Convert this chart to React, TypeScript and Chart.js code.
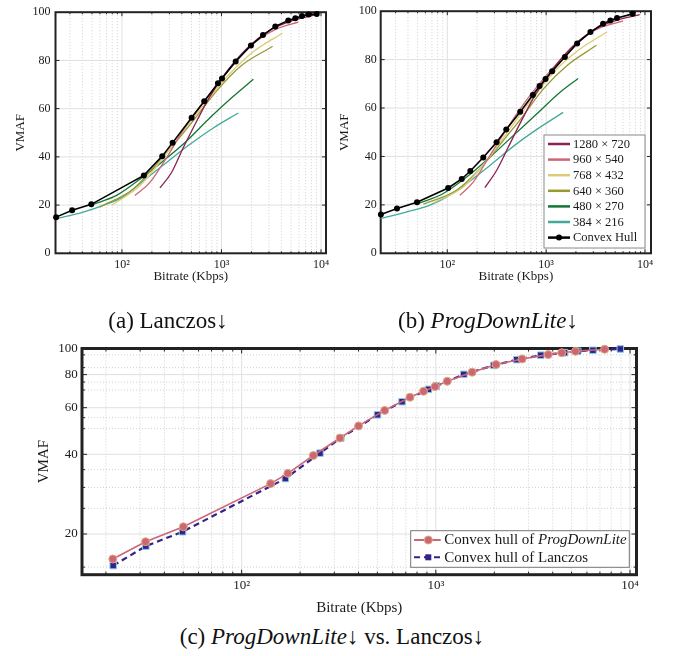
import React, { useEffect, useRef } from 'react';
import { Chart, registerables } from 'chart.js';

Chart.register(...registerables);

const SERIF = '"Liberation Serif", "DejaVu Serif", serif';
const INK = '#1a1a1a';

const resolutionLabels = ['1280 × 720', '960 × 540', '768 × 432', '640 × 360', '480 × 270', '384 × 216'];
const resolutionColors = ['#882255', '#CC6677', '#DDCC77', '#999933', '#117733', '#44AA99'];

const xTickValues = [100, 1000, 10000];
const xTickLabels = ['10²', '10³', '10⁴'];
const xMinorTicks = [20, 30, 40, 50, 60, 70, 80, 90, 200, 300, 400, 500, 600, 700, 800, 900, 2000, 3000, 4000, 5000, 6000, 7000, 8000, 9000];
const yTicksLinear = [0, 20, 40, 60, 80, 100];
const yTicksLog = [20, 40, 60, 80, 100];
const yMinorLog = [15, 25, 30, 35, 50, 55, 70, 75, 85, 95];

// (a) Lanczos
const lzHullRate = [21.8, 31.6, 49.2, 166, 254, 323, 501, 671, 922, 1012, 1390, 1977, 2612, 3475, 4690, 5520, 6440, 7510, 9060];
const lzHullVmaf = [15.0, 17.9, 20.3, 32.3, 40.3, 45.9, 56.2, 63.1, 70.5, 72.5, 79.6, 86.2, 90.5, 94.1, 96.6, 97.5, 98.4, 99.0, 99.3];
const lz1280Rate = [241, 315, 413, 563, 766, 1127, 1790, 3070, 5260, 8710];
const lz1280Vmaf = [27.1, 33.5, 43.8, 54.8, 65.1, 75.3, 84.9, 92.5, 96.6, 98.9];
const lz960Rate = [135, 191, 281, 447, 710, 1217, 2090, 3590, 5920];
const lz960Vmaf = [24.0, 29.4, 39.7, 53.4, 64.4, 76.7, 87.0, 93.1, 95.9];
const lz768Rate = [78.8, 152, 260, 447, 710, 1217, 2090, 4120];
const lz768Vmaf = [19.9, 28.1, 39.7, 52.6, 63.0, 74.6, 83.6, 91.4];
const lz640Rate = [60.1, 130, 223, 355, 563, 896, 1535, 3265];
const lz640Vmaf = [19.2, 26.7, 37.0, 46.6, 56.8, 67.4, 77.4, 85.9];
const lz480Rate = [49.5, 88.4, 164, 260, 447, 766, 1315, 2090];
const lz480Vmaf = [20.1, 24.0, 31.8, 38.3, 46.6, 56.2, 65.1, 72.2];
const lz384Rate = [21.7, 40.8, 64.9, 103, 164, 281, 482, 828, 1475];
const lz384Vmaf = [14.4, 17.1, 19.9, 23.4, 30.1, 37.7, 45.2, 52.0, 58.2];

// (b) ProgDownLite
const pdHullRate = [21.3, 31, 49.4, 102, 140, 171, 231, 315, 395, 547, 734, 858, 986, 1150, 1546, 2057, 2806, 3764, 4467, 5212, 7510];
const pdHullVmaf = [16.0, 18.5, 21.1, 27.0, 30.7, 34.0, 39.6, 45.9, 51.1, 58.5, 65.4, 69.1, 72.0, 75.2, 81.1, 86.7, 91.4, 94.8, 96.2, 97.2, 98.9];
const pd1280Rate = [240, 315, 413, 563, 769, 1135, 1806, 3228, 5556, 8830];
const pd1280Vmaf = [27.1, 34.2, 43.8, 54.8, 65.1, 75.3, 84.9, 92.9, 96.6, 98.6];
const pd960Rate = [134, 183, 270, 430, 684, 1178, 2026, 3486, 5995];
const pd960Vmaf = [24.0, 29.4, 40.4, 53.4, 65.1, 76.7, 87.0, 93.1, 95.9];
const pd768Rate = [72.2, 145, 250, 430, 740, 1273, 2187, 4130];
const pd768Vmaf = [20.8, 27.4, 38.3, 51.4, 64.4, 76.0, 84.3, 91.4];
const pd640Rate = [57.3, 124, 214, 368, 586, 933, 1607, 3228];
const pd640Vmaf = [20.3, 26.0, 34.9, 46.6, 56.8, 67.8, 77.4, 85.9];
const pd480Rate = [49.1, 91.1, 157, 270, 464, 800, 1374, 2105];
const pd480Vmaf = [20.3, 24.7, 31.5, 39.7, 48.6, 57.5, 66.4, 72.2];
const pd384Rate = [21.2, 45.4, 66.8, 98.6, 157, 270, 502, 863, 1486];
const pd384Vmaf = [14.4, 17.8, 19.9, 23.3, 28.8, 36.3, 45.2, 52.0, 58.2];

// (c) comparison of convex hulls
const cmpProgRate = [21.7, 32.0, 50.1, 141, 173, 234, 321, 400, 545, 736, 864, 991, 1145, 1538, 2042, 2782, 3790, 4450, 5240, 7400];
const cmpProgVmaf = [16.1, 18.7, 21.3, 31.0, 33.9, 39.6, 46.1, 51.2, 58.6, 65.7, 69.2, 72.1, 75.5, 81.7, 87.3, 91.7, 95.2, 96.8, 98.0, 99.7];
const cmpLzRate = [21.8, 32.1, 49.6, 168, 253, 324, 501, 670, 917, 1006, 1393, 1988, 2612, 3470, 4600, 5380, 6440, 8915];
const cmpLzVmaf = [15.2, 18.0, 20.4, 32.4, 40.4, 46.1, 56.4, 63.2, 70.4, 72.5, 80.2, 86.7, 91.1, 94.7, 96.8, 98.0, 98.9, 100];

const zip = (xs: number[], ys: number[]) => xs.map((x, i) => ({ x, y: ys[i] }));

function makeFramePlugin(o: { yMajor: number[]; yMinor: number[]; frameWidth: number; majorLen: number; minorLen: number }) {
  return {
    id: 'pgfFrame',
    beforeDatasetsDraw(chart: any) {
      const { ctx, chartArea: a } = chart;
      const xs = chart.scales.x;
      const ys = chart.scales.y;
      const inX = (v: number) => v > xs.min && v < xs.max;
      const inY = (v: number) => v > ys.min && v < ys.max;
      const seg = (x1: number, y1: number, x2: number, y2: number) => {
        ctx.beginPath();
        ctx.moveTo(x1, y1);
        ctx.lineTo(x2, y2);
        ctx.stroke();
      };
      ctx.save();
      ctx.strokeStyle = '#c4c4c4';
      ctx.lineWidth = 0.8;
      ctx.setLineDash([1, 2]);
      xMinorTicks.filter(inX).forEach((v) => {
        const x = xs.getPixelForValue(v);
        seg(x, a.top, x, a.bottom);
      });
      o.yMinor.filter(inY).forEach((v) => {
        const y = ys.getPixelForValue(v);
        seg(a.left, y, a.right, y);
      });
      ctx.setLineDash([]);
      ctx.strokeStyle = '#e0e0e0';
      ctx.lineWidth = 1;
      xTickValues.filter(inX).forEach((v) => {
        const x = xs.getPixelForValue(v);
        seg(x, a.top, x, a.bottom);
      });
      o.yMajor.filter(inY).forEach((v) => {
        const y = ys.getPixelForValue(v);
        seg(a.left, y, a.right, y);
      });
      ctx.strokeStyle = '#222';
      ctx.lineWidth = 1;
      xTickValues.filter(inX).forEach((v) => {
        const x = xs.getPixelForValue(v);
        seg(x, a.bottom, x, a.bottom - o.majorLen);
        seg(x, a.top, x, a.top + o.majorLen);
      });
      xMinorTicks.filter(inX).forEach((v) => {
        const x = xs.getPixelForValue(v);
        seg(x, a.bottom, x, a.bottom - o.minorLen);
        seg(x, a.top, x, a.top + o.minorLen);
      });
      o.yMajor.filter(inY).forEach((v) => {
        const y = ys.getPixelForValue(v);
        seg(a.left, y, a.left + o.majorLen, y);
        seg(a.right, y, a.right - o.majorLen, y);
      });
      o.yMinor.filter(inY).forEach((v) => {
        const y = ys.getPixelForValue(v);
        seg(a.left, y, a.left + o.minorLen, y);
        seg(a.right, y, a.right - o.minorLen, y);
      });
      ctx.strokeStyle = '#222';
      ctx.lineWidth = o.frameWidth;
      ctx.strokeRect(a.left, a.top, a.right - a.left, a.bottom - a.top);
      ctx.restore();
    },
  };
}

const resLegendPlugin = {
  id: 'resLegend',
  afterDraw(chart: any) {
    const { ctx, chartArea: a } = chart;
    const w = 101;
    const h = 113;
    const right = a.right - 6;
    const bottom = a.bottom - 5.3;
    const left = right - w;
    const top = bottom - h;
    ctx.save();
    ctx.fillStyle = '#fff';
    ctx.fillRect(left, top, w, h);
    ctx.strokeStyle = '#8a8a8a';
    ctx.lineWidth = 1;
    ctx.strokeRect(left, top, w, h);
    const labels = [...resolutionLabels, 'Convex Hull'];
    const colors = [...resolutionColors, '#000'];
    ctx.font = `12.5px ${SERIF}`;
    ctx.textBaseline = 'middle';
    labels.forEach((lab, i) => {
      const y = top + 9 + i * 15.6;
      ctx.strokeStyle = colors[i];
      ctx.lineWidth = 2.5;
      ctx.beginPath();
      ctx.moveTo(left + 4, y);
      ctx.lineTo(left + 26, y);
      ctx.stroke();
      if (i === labels.length - 1) {
        ctx.fillStyle = '#000';
        ctx.beginPath();
        ctx.arc(left + 15, y, 3, 0, Math.PI * 2);
        ctx.fill();
      }
      ctx.fillStyle = INK;
      ctx.fillText(lab, left + 29, y + 0.5);
    });
    ctx.restore();
  },
};

const cmpLegendPlugin = {
  id: 'cmpLegend',
  afterDraw(chart: any) {
    const { ctx, chartArea: a } = chart;
    const w = 218.6;
    const h = 36.6;
    const right = a.right - 7.2;
    const bottom = a.bottom - 7.4;
    const left = right - w;
    const top = bottom - h;
    ctx.save();
    ctx.fillStyle = '#fff';
    ctx.fillRect(left, top, w, h);
    ctx.strokeStyle = '#777';
    ctx.lineWidth = 1;
    ctx.strokeRect(left, top, w, h);
    ctx.textBaseline = 'middle';
    let y = top + 9.3;
    ctx.strokeStyle = '#CC6677';
    ctx.lineWidth = 2;
    ctx.beginPath();
    ctx.moveTo(left + 3.3, y);
    ctx.lineTo(left + 30, y);
    ctx.stroke();
    ctx.fillStyle = '#CC6677';
    ctx.strokeStyle = '#DDAA77';
    ctx.lineWidth = 1;
    ctx.beginPath();
    ctx.arc(left + 17.6, y, 4, 0, Math.PI * 2);
    ctx.fill();
    ctx.stroke();
    ctx.fillStyle = INK;
    ctx.font = `15px ${SERIF}`;
    const pre = 'Convex hull of ';
    ctx.fillText(pre, left + 33.6, y + 0.5);
    const pw = ctx.measureText(pre).width;
    ctx.font = `italic 15px ${SERIF}`;
    ctx.fillText('ProgDownLite', left + 33.6 + pw, y + 0.5);
    y = top + 26.6;
    ctx.strokeStyle = '#332288';
    ctx.lineWidth = 2;
    ctx.setLineDash([6, 4]);
    ctx.beginPath();
    ctx.moveTo(left + 3.3, y);
    ctx.lineTo(left + 30, y);
    ctx.stroke();
    ctx.setLineDash([]);
    ctx.fillStyle = '#332288';
    ctx.fillRect(left + 14.6, y - 3, 6, 6);
    ctx.fillStyle = INK;
    ctx.font = `15px ${SERIF}`;
    ctx.fillText('Convex hull of Lanczos', left + 33.6, y + 0.5);
    ctx.restore();
  },
};

function xAxis(min: number, max: number, height: number, tickSize: number, tickPad: number, titleSize: number, titlePad: number) {
  return {
    type: 'logarithmic',
    min,
    max,
    grid: { display: false, drawTicks: false },
    border: { display: false },
    afterBuildTicks: (s: any) => {
      s.ticks = xTickValues.map((v) => ({ value: v }));
    },
    afterFit: (s: any) => {
      s.height = height;
    },
    ticks: {
      autoSkip: false,
      maxRotation: 0,
      minRotation: 0,
      padding: tickPad,
      color: INK,
      font: { family: SERIF, size: tickSize },
      callback: (v: any) => {
        const i = xTickValues.indexOf(Number(v));
        return i >= 0 ? xTickLabels[i] : '';
      },
    },
    title: {
      display: true,
      text: 'Bitrate (Kbps)',
      color: INK,
      font: { family: SERIF, size: titleSize },
      padding: { top: 0, bottom: titlePad },
    },
  };
}

function yAxis(type: string, min: number, max: number, ticks: number[], width: number, tickSize: number, tickPad: number, titleSize: number, titlePad: number) {
  return {
    type,
    min,
    max,
    grid: { display: false, drawTicks: false },
    border: { display: false },
    afterBuildTicks: (s: any) => {
      s.ticks = ticks.map((v) => ({ value: v }));
    },
    afterFit: (s: any) => {
      s.width = width;
    },
    ticks: {
      autoSkip: false,
      padding: tickPad,
      color: INK,
      font: { family: SERIF, size: tickSize },
      callback: (v: any) => String(v),
    },
    title: {
      display: true,
      text: 'VMAF',
      color: INK,
      font: { family: SERIF, size: titleSize },
      padding: { top: titlePad, bottom: 0 },
    },
  };
}

function resolutionConfig(hullRate: number[], hullVmaf: number[], curves: number[][][], p: any) {
  const datasets: any[] = [
    {
      label: 'Convex Hull',
      data: zip(hullRate, hullVmaf),
      borderColor: '#000',
      backgroundColor: '#000',
      borderWidth: 1.6,
      pointRadius: 3,
      pointBorderWidth: 0,
      tension: 0,
      clip: false,
    },
    ...curves.map(([r, v], i) => ({
      label: resolutionLabels[i],
      data: zip(r, v),
      borderColor: resolutionColors[i],
      backgroundColor: resolutionColors[i],
      borderWidth: 1.3,
      pointRadius: 0,
      cubicInterpolationMode: 'monotone',
      clip: false,
    })),
  ];
  const plugins: any[] = [makeFramePlugin({ yMajor: yTicksLinear, yMinor: [], frameWidth: 2, majorLen: 4, minorLen: 2 })];
  if (p.legend) plugins.push(resLegendPlugin);
  return {
    type: 'line',
    data: { datasets },
    plugins,
    options: {
      animation: false,
      responsive: false,
      maintainAspectRatio: false,
      events: [],
      layout: { padding: { left: 0, right: p.padRight, top: 10, bottom: 0 } },
      plugins: { legend: { display: false }, tooltip: { enabled: false } },
      scales: {
        x: xAxis(p.xMin, p.xMax, 36.7, 12, 4, 13, 6),
        y: yAxis('linear', 0, 100, yTicksLinear, p.yWidth, 12, p.yTickPad, 13, p.vmafPad),
      },
    },
  };
}

function compareConfig() {
  const datasets: any[] = [
    {
      label: 'Convex hull of ProgDownLite',
      data: zip(cmpProgRate, cmpProgVmaf),
      borderColor: '#CC6677',
      backgroundColor: '#CC6677',
      pointBorderColor: '#DDAA77',
      borderWidth: 1.6,
      pointRadius: 4,
      pointBorderWidth: 1,
      tension: 0,
      clip: false,
    },
    {
      label: 'Convex hull of Lanczos',
      data: zip(cmpLzRate, cmpLzVmaf),
      borderColor: '#332288',
      backgroundColor: '#332288',
      pointBorderColor: '#88CCEE',
      borderWidth: 2.2,
      borderDash: [6, 4],
      pointStyle: 'rect',
      pointRadius: 4.6,
      pointBorderWidth: 1,
      tension: 0,
      clip: false,
    },
  ];
  return {
    type: 'line',
    data: { datasets },
    plugins: [makeFramePlugin({ yMajor: yTicksLog, yMinor: yMinorLog, frameWidth: 3, majorLen: 5, minorLen: 3 }), cmpLegendPlugin],
    options: {
      animation: false,
      responsive: false,
      maintainAspectRatio: false,
      events: [],
      layout: { padding: { left: 0, right: 41.5, top: 18.5, bottom: 0 } },
      plugins: { legend: { display: false }, tooltip: { enabled: false } },
      scales: {
        x: xAxis(15.06, 10800, 45.3, 13, 3, 15, 2.7),
        y: yAxis('logarithmic', 14.04, 100.4, yTicksLog, 82, 13, 4.3, 15, 35),
      },
    },
  };
}

function ChartCanvas({ left, top, width, height, build }: { left: number; top: number; width: number; height: number; build: () => any }) {
  const ref = useRef<HTMLCanvasElement>(null);
  useEffect(() => {
    const chart = new Chart(ref.current as HTMLCanvasElement, build());
    return () => chart.destroy();
  }, []);
  return <canvas ref={ref} width={width} height={height} style={{ position: 'absolute', left, top, width, height }} />;
}

const captionStyle: any = {
  position: 'absolute',
  transform: 'translate(-50%, -50%)',
  fontFamily: SERIF,
  fontSize: 23,
  color: '#111',
  whiteSpace: 'nowrap',
  lineHeight: 1,
};

export default function App() {
  return (
    <div style={{ position: 'absolute', left: 0, top: 0, width: 678, height: 656, background: '#fff', overflow: 'hidden' }}>
      <ChartCanvas
        left={0}
        top={0}
        width={340}
        height={290}
        build={() =>
          resolutionConfig(
            lzHullRate,
            lzHullVmaf,
            [
              [lz1280Rate, lz1280Vmaf],
              [lz960Rate, lz960Vmaf],
              [lz768Rate, lz768Vmaf],
              [lz640Rate, lz640Vmaf],
              [lz480Rate, lz480Vmaf],
              [lz384Rate, lz384Vmaf],
            ],
            { xMin: 21.5, xMax: 11226, padRight: 14, yWidth: 55.5, yTickPad: 5, vmafPad: 12.9, legend: false }
          )
        }
      />
      <ChartCanvas
        left={330}
        top={0}
        width={348}
        height={290}
        build={() =>
          resolutionConfig(
            pdHullRate,
            pdHullVmaf,
            [
              [pd1280Rate, pd1280Vmaf],
              [pd960Rate, pd960Vmaf],
              [pd768Rate, pd768Vmaf],
              [pd640Rate, pd640Vmaf],
              [pd480Rate, pd480Vmaf],
              [pd384Rate, pd384Vmaf],
            ],
            { xMin: 21.2, xMax: 11500, padRight: 27, yWidth: 50.7, yTickPad: 4, vmafPad: 7.2, legend: true }
          )
        }
      />
      <ChartCanvas left={0} top={330} width={678} height={290} build={compareConfig} />
      <div style={{ ...captionStyle, left: 168, top: 320 }}>(a) Lanczos↓</div>
      <div style={{ ...captionStyle, left: 488, top: 320 }}>
        (b) <i>ProgDownLite</i>↓
      </div>
      <div style={{ ...captionStyle, left: 332, top: 636 }}>
        (c) <i>ProgDownLite</i>↓ vs. Lanczos↓
      </div>
    </div>
  );
}
